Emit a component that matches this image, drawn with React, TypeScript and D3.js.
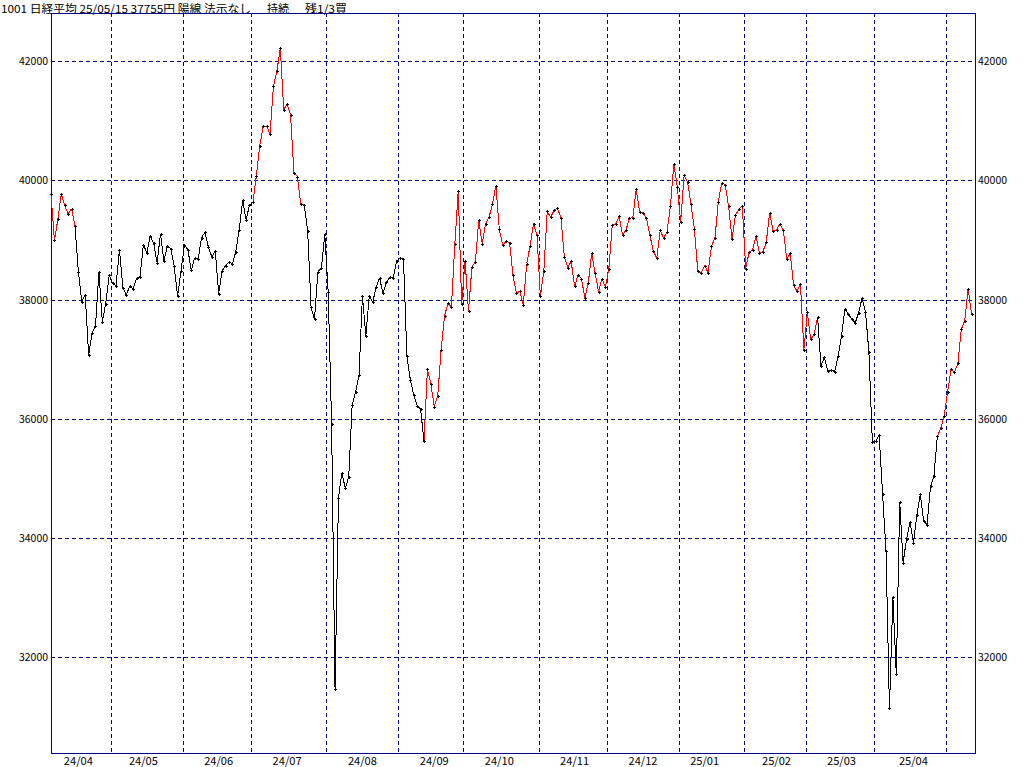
import * as d3 from "d3";

// Nikkei 225 daily closes, one pair of arrays per month (trading day, close)
const d2404 = [4, 5, 8, 9, 10, 11, 12, 15, 16, 17, 18, 19, 22, 23, 24, 25, 26, 30];
const c2404 = [39773, 38992, 39347, 39773, 39581, 39442, 39523, 39232, 38471, 37962, 38079, 37068, 37438, 37552, 38460, 37628, 37934, 38405];
const d2405 = [1, 2, 7, 8, 9, 10, 13, 14, 15, 16, 17, 20, 21, 22, 23, 24, 27, 28, 29, 30, 31];
const c2405 = [38274, 38236, 38835, 38202, 38073, 38229, 38179, 38356, 38385, 38920, 38787, 39069, 38946, 38617, 39103, 38646, 38900, 38855, 38556, 38054, 38487];
const d2406 = [3, 4, 5, 6, 7, 10, 11, 12, 13, 14, 17, 18, 19, 20, 21, 24, 25, 26, 27, 28];
const c2406 = [38923, 38837, 38490, 38703, 38683, 39038, 39134, 38876, 38720, 38814, 38102, 38482, 38570, 38633, 38596, 38804, 39173, 39667, 39341, 39583];
const d2407 = [1, 2, 3, 4, 5, 8, 9, 10, 11, 12, 16, 17, 18, 19, 22, 23, 24, 25, 26, 29, 30, 31];
const c2407 = [39631, 40074, 40580, 40913, 40912, 40780, 41580, 41831, 42224, 41190, 41275, 41097, 40126, 40063, 39599, 39594, 39155, 37869, 37667, 38468, 38526, 39102];
const d2408 = [1, 2, 5, 6, 7, 8, 9, 13, 14, 15, 16, 19, 20, 21, 22, 23, 26, 27, 28, 29, 30];
const c2408 = [38126, 35910, 31458, 34675, 35090, 34831, 35025, 36233, 36442, 36727, 38063, 37389, 38062, 37951, 38211, 38364, 38110, 38288, 38371, 38362, 38648];
const d2409 = [2, 3, 4, 5, 6, 9, 10, 11, 12, 13, 17, 18, 19, 20, 24, 25, 26, 27, 30];
const c2409 = [38700, 38686, 37047, 36657, 36391, 36216, 36159, 35620, 36833, 36581, 36203, 36380, 37155, 37724, 37941, 37870, 38926, 39830, 37920];
const d2410 = [1, 2, 3, 4, 7, 8, 9, 10, 11, 15, 16, 17, 18, 21, 22, 23, 24, 25, 28, 29, 30, 31];
const c2410 = [38651, 37809, 38552, 38635, 39333, 38937, 39277, 39380, 39605, 39910, 39180, 38911, 38981, 38954, 38411, 38104, 38143, 37913, 38605, 38903, 39277, 39081];
const d2411 = [1, 5, 6, 7, 8, 11, 12, 13, 14, 15, 18, 19, 20, 21, 22, 25, 26, 27, 28, 29];
const c2411 = [38053, 38474, 39480, 39381, 39500, 39533, 39376, 38721, 38535, 38642, 38220, 38414, 38352, 38026, 38283, 38780, 38442, 38134, 38349, 38208];
const d2412 = [2, 3, 4, 5, 6, 9, 10, 11, 12, 13, 16, 17, 18, 19, 20, 23, 24, 25, 26, 27, 30];
const c2412 = [38513, 39248, 39276, 39395, 39091, 39161, 39367, 39372, 39849, 39470, 39457, 39364, 39081, 38813, 38701, 39161, 39036, 39130, 39568, 40281, 39894];
const d2501 = [6, 7, 8, 9, 10, 14, 15, 16, 17, 20, 21, 22, 23, 24, 27, 28, 29, 30, 31];
const c2501 = [39307, 40083, 39981, 39605, 39190, 38474, 38444, 38572, 38451, 38902, 39027, 39646, 39958, 39931, 39565, 39016, 39414, 39513, 39572];
const d2502 = [3, 4, 5, 6, 7, 10, 12, 13, 14, 17, 18, 19, 20, 21, 25, 26, 27, 28];
const c2502 = [38520, 38798, 38831, 39066, 38787, 38801, 38963, 39461, 39149, 39174, 39270, 39164, 38678, 38776, 38237, 38142, 38256, 37155];
const d2503 = [3, 4, 5, 6, 7, 10, 11, 12, 13, 14, 17, 18, 19, 21, 24, 25, 26, 27, 28, 31];
const c2503 = [37785, 37331, 37418, 37704, 36887, 37028, 36793, 36819, 36790, 37053, 37396, 37845, 37751, 37677, 37608, 37780, 38027, 37799, 37120, 35617];
const d2504 = [1, 2, 3, 4, 7, 8, 9, 10, 11, 14, 15, 16, 17, 18, 21, 22, 23, 24, 25, 28, 30];
const c2504 = [35624, 35725, 34735, 33780, 31136, 33012, 31714, 34609, 33586, 33982, 34267, 33920, 34377, 34730, 34280, 34220, 34868, 35039, 35705, 35839, 36045];
const d2505 = [1, 2, 7, 8, 9, 12, 13, 15];
const c2505 = [36452, 36830, 36780, 36928, 37503, 37644, 38183, 37755];

const months: [string, number[], number[]][] = [
  ["24/04", d2404, c2404], ["24/05", d2405, c2405], ["24/06", d2406, c2406],
  ["24/07", d2407, c2407], ["24/08", d2408, c2408], ["24/09", d2409, c2409],
  ["24/10", d2410, c2410], ["24/11", d2411, c2411], ["24/12", d2412, c2412],
  ["25/01", d2501, c2501], ["25/02", d2502, c2502], ["25/03", d2503, c2503],
  ["25/04", d2504, c2504], ["25/05", d2505, c2505],
];

// stretches where the line is drawn red (from, to) as month label + day
const redRuns: [string, number, string, number][] = [
  ["24/04", 4, "24/04", 15],
  ["24/07", 1, "24/07", 23],
  ["24/09", 11, "25/03", 6],
  ["25/04", 25, "25/05", 15],
];

const yTicks = [32000, 34000, 36000, 38000, 40000, 42000];

const titleMain = "1001 日経平均 25/05/15 37755円 陽線 法示なし";
const titleState = "持続";
const titleSignal = "残1/3買";

const NAVY = "#00008b";
const FONT = "'Noto Sans CJK JP', sans-serif";

type Pt = { m: string; day: number; v: number; i: number };

const App = () => {
  const width = 1024;
  const height = 767;
  const plot = { left: 51, right: 975, top: 13, bottom: 753 };

  // flatten data
  const pts: Pt[] = [];
  months.forEach(([m, days, vals]) =>
    days.forEach((d, k) => pts.push({ m, day: d, v: vals[k], i: pts.length }))
  );
  const indexOf = (m: string, day: number) =>
    pts.findIndex((p) => p.m === m && p.day === day);

  const xScale = d3.scaleLinear().domain([0, 270]).range([plot.left, plot.right]);
  const yScale = d3.scaleLinear().domain([30388, 42811]).range([plot.bottom, plot.top]);

  const isRed = (i: number) =>
    redRuns.some(([m0, d0, m1, d1]) => i >= indexOf(m0, d0) && i < indexOf(m1, d1));

  const line = d3
    .line<Pt>()
    .x((p) => xScale(p.i))
    .y((p) => yScale(p.v));

  // month boundaries and labels
  const boundaries = months.slice(1).map(([m]) => pts.find((p) => p.m === m)!.i - 0.5);
  const labels = months
    .map(([m]) => ({ m, p: pts.find((p) => p.m === m && p.day >= 16) }))
    .filter((l) => l.p);

  return (
    <div style={{ position: "absolute", left: 0, top: 0 }}>
      <svg width={width} height={height} style={{ display: "block", background: "#fff" }}>
        <g fontFamily={FONT} fill="#000" fontSize={11}>
          <text x={1} y={13} textLength={250} lengthAdjust="spacingAndGlyphs">
            {titleMain}
          </text>
          <text x={267} y={13}>{titleState}</text>
          <text x={305} y={13} textLength={42} lengthAdjust="spacingAndGlyphs">
            {titleSignal}
          </text>
        </g>

        {/* grid */}
        <g stroke={NAVY} strokeWidth={1} strokeDasharray="4,3" shapeRendering="crispEdges">
          {yTicks.map((t) => (
            <line key={t} x1={plot.left} x2={plot.right} y1={Math.round(yScale(t)) + 0.5} y2={Math.round(yScale(t)) + 0.5} />
          ))}
          {boundaries.map((b) => (
            <line key={b} x1={Math.round(xScale(b)) + 0.5} x2={Math.round(xScale(b)) + 0.5} y1={plot.top} y2={plot.bottom} />
          ))}
        </g>

        {/* frame */}
        <rect
          x={plot.left + 0.5}
          y={plot.top + 0.5}
          width={plot.right - plot.left}
          height={plot.bottom - plot.top}
          fill="none"
          stroke={NAVY}
          shapeRendering="crispEdges"
        />

        {/* y labels both sides */}
        <g fontFamily={FONT} fontSize={11} fill="#000">
          {yTicks.map((t) => (
            <g key={t}>
              <text x={48} y={yScale(t) + 4} textAnchor="end" textLength={29} lengthAdjust="spacingAndGlyphs">
                {t}
              </text>
              <text x={978} y={yScale(t) + 4} textLength={29} lengthAdjust="spacingAndGlyphs">
                {t}
              </text>
            </g>
          ))}
        </g>

        {/* x labels */}
        <g fontFamily={FONT} fontSize={11} fill="#000">
          {labels.map((l) => (
            <text
              key={l.m}
              x={xScale(l.p!.i)}
              y={765}
              textAnchor="middle"
              textLength={29}
              lengthAdjust="spacingAndGlyphs"
            >
              {l.m}
            </text>
          ))}
        </g>

        {/* price line, segment by segment */}
        <g fill="none" strokeWidth={1} shapeRendering="crispEdges">
          {pts.slice(1).map((p, k) => (
            <path
              key={k}
              d={line([pts[k], p])!}
              stroke={isRed(k) ? "#ff0000" : "#000000"}
            />
          ))}
        </g>

        {/* + markers */}
        <g fill="#000" shapeRendering="crispEdges">
          {pts.map((p) => {
            const cx = Math.round(xScale(p.i));
            const cy = Math.round(yScale(p.v));
            return (
              <g key={p.i}>
                <rect x={cx - 1} y={cy} width={3} height={1} />
                <rect x={cx} y={cy - 1} width={1} height={3} />
              </g>
            );
          })}
        </g>
      </svg>
    </div>
  );
};

export default App;
